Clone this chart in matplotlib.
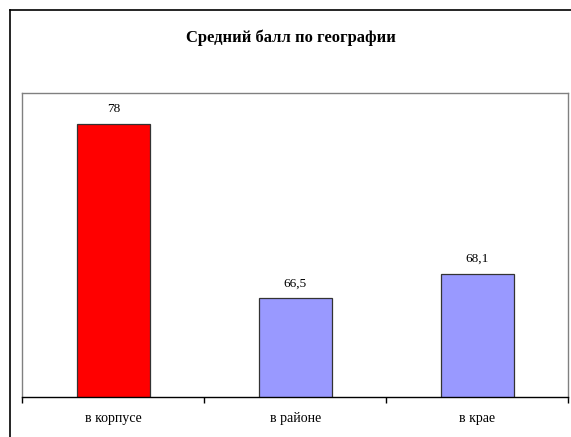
import numpy as np
import matplotlib.pyplot as plt
from matplotlib.lines import Line2D

categories = ["в корпусе", "в районе", "в крае"]
values = [78, 66.5, 68.1]
value_labels = ["78", "66,5", "68,1"]
colors = ["#FF0000", "#9999FF", "#9999FF"]

plt.rcParams['font.family'] = ['Liberation Serif', 'DejaVu Serif']

fig = plt.figure(figsize=(5.71, 4.37), dpi=100)
W, H = 571, 437

# outer chart border (only left and top visible in the crop)
fig.add_artist(Line2D([10 / W, 10 / W], [0, 1 - 10 / H], color="black", lw=1.2))
fig.add_artist(Line2D([10 / W, 1], [1 - 10 / H, 1 - 10 / H], color="black", lw=1.2))

ax = fig.add_axes([22.3 / W, 40 / H, (568.3 - 22.3) / W, (397 - 93.3) / H])

x = np.arange(len(categories))
bars = ax.bar(x, values, width=0.4, color=colors, edgecolor="#333333", linewidth=0.9, zorder=2)
ax.set_ylim(60, 80)
ax.set_xlim(-0.5, len(categories) - 0.5)

for xi, v, lab in zip(x, values, value_labels):
    ax.annotate(lab, (xi, v), xytext=(0, 6.5), textcoords="offset points",
                ha="center", va="bottom", fontsize=9.5)

for side in ["top", "right", "left"]:
    ax.spines[side].set_color("#808080")
    ax.spines[side].set_linewidth(1.0)
ax.spines["bottom"].set_color("black")
ax.spines["bottom"].set_linewidth(1.0)

ax.set_yticks([])
ax.set_xticks(np.arange(len(categories) + 1) - 0.5)
ax.set_xticklabels([])
ax.tick_params(axis="x", which="major", length=4, width=1, direction="out", color="black")
ax.set_xticks(x, minor=True)
ax.set_xticklabels(categories, minor=True, fontsize=10)
ax.tick_params(axis="x", which="minor", length=0, pad=11)

fig.text(291 / W, 1 - 38 / H, "Средний балл по географии", ha="center", va="center",
         fontsize=12, fontweight="bold")

fig.savefig("out.png", dpi=100)
